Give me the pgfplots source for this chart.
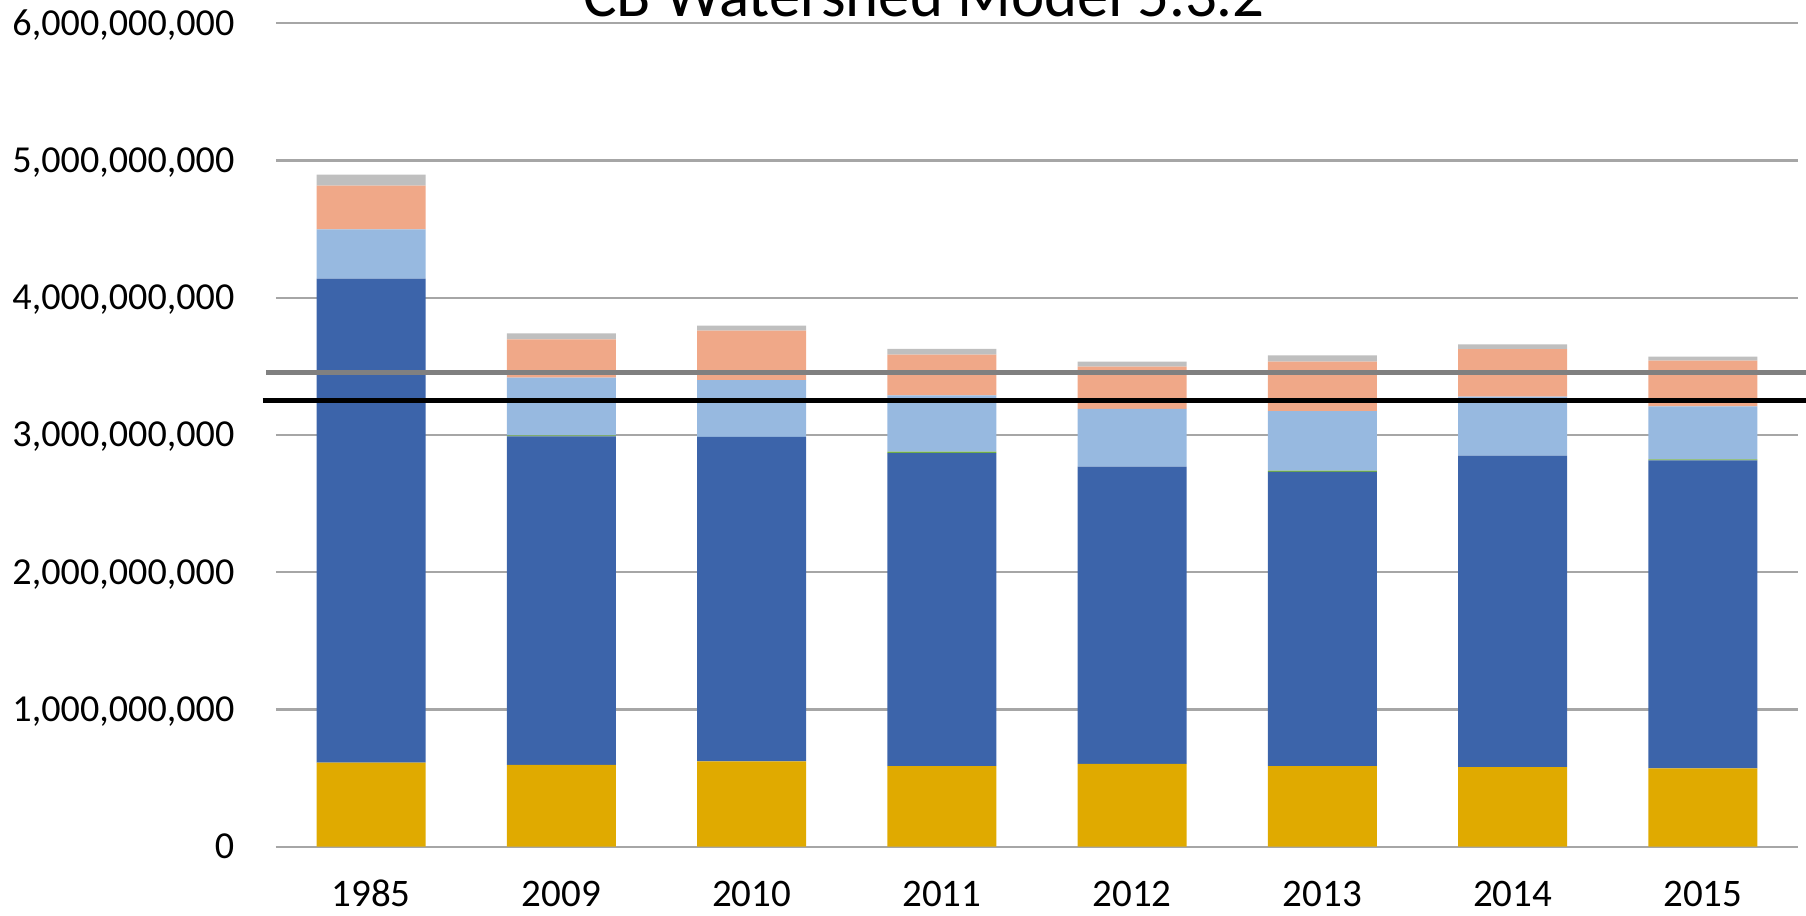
\documentclass[border=0pt]{standalone}
\usepackage{pgfplots}
\pgfplotsset{compat=1.18}
\usepackage{pgfplotstable}
\usepackage{fontspec}
\setmainfont{Carlito}
\definecolor{cgold}{RGB}{224,170,0}
\definecolor{cblue}{RGB}{60,100,170}
\definecolor{cgreen}{RGB}{112,173,71}
\definecolor{clblue}{RGB}{151,185,224}
\definecolor{csalmon}{RGB}{240,168,136}
\definecolor{cgray}{RGB}{191,191,191}
\definecolor{cline}{RGB}{128,128,128}
\definecolor{cgrid}{RGB}{166,166,166}
\pgfplotstableread{
x gold blue green lblue salmon gray
0 613000000 3526000000 0 360000000 318000000 80000000
1 596000000 2394000000 8000000 420000000 279000000 44000000
2 621000000 2365000000 0 413000000 361000000 37000000
3 587000000 2281000000 10000000 411000000 296000000 42000000
4 604000000 2165000000 0 421000000 308000000 36000000
5 587000000 2145000000 8000000 433000000 361000000 47000000
6 579000000 2270000000 0 430000000 346000000 36000000
7 571000000 2244000000 7000000 387000000 332000000 30000000
}\bars
\begin{document}
\begin{tikzpicture}
\clip (0,0) rectangle (18.06cm,9.16cm);
\begin{axis}[
  at={(2.76cm,0.693cm)}, anchor=south west,
  scale only axis, width=15.22cm, height=8.234cm,
  ybar stacked, bar width=1.09cm,
  xmin=-0.5, xmax=7.5, ymin=0, ymax=6000000000,
  axis line style={draw=none},
  scaled y ticks=false,
  xtick=data, xticklabels={1985,2009,2010,2011,2012,2013,2014,2015},
  ytick={0,1000000000,2000000000,3000000000,4000000000,5000000000,6000000000},
  yticklabels={0,{1,000,000,000},{2,000,000,000},{3,000,000,000},{4,000,000,000},{5,000,000,000},{6,000,000,000}},
  ymajorgrids, major grid style={cgrid, line width=0.6pt},
  major tick length=0pt, tick style={draw=none},
  tick label style={text=black, inner sep=0pt},
  yticklabel style={font=\fontsize{10.85pt}{13pt}\selectfont, anchor=base east, xshift=-0.41cm, yshift=-0.34em},
  xticklabel style={font=\fontsize{11.1pt}{13pt}\selectfont, anchor=base, yshift=-0.6cm},
  every axis plot/.append style={draw=none},
]
\addplot[fill=cgold] table[x=x,y=gold]{\bars};
\addplot[fill=cblue] table[x=x,y=blue]{\bars};
\addplot[fill=cgreen] table[x=x,y=green]{\bars};
\addplot[fill=clblue] table[x=x,y=lblue]{\bars};
\addplot[fill=csalmon] table[x=x,y=salmon]{\bars};
\addplot[fill=cgray] table[x=x,y=gray]{\bars};
\draw[cgrid, line width=0.6pt] (axis cs:-0.5,0) -- (axis cs:7.5,0);
\end{axis}
\begin{axis}[
  at={(2.76cm,0.693cm)}, anchor=south west,
  scale only axis, width=15.22cm, height=8.234cm,
  xmin=-0.5, xmax=7.5, ymin=0, ymax=6000000000,
  axis lines=none, ticks=none, clip=false,
]
\addplot[cline, line width=1.45pt] coordinates {(-0.55,3457000000) (7.6,3457000000)};
\addplot[black, line width=1.5pt] coordinates {(-0.57,3253000000) (7.6,3253000000)};
\end{axis}
\node[anchor=base, font=\fontsize{17.9pt}{20pt}\selectfont] at (9.24cm,8.993cm) {CB Watershed Model 5.3.2};
\end{tikzpicture}
\end{document}
